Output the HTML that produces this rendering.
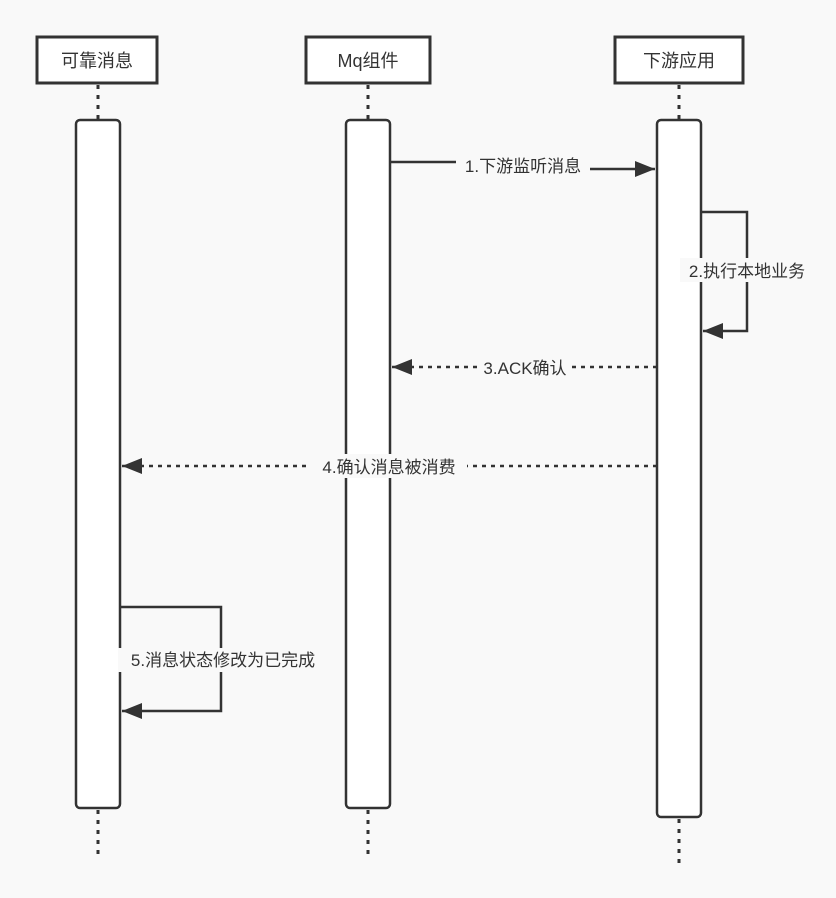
<!DOCTYPE html>
<html><head><meta charset="utf-8"><style>
body{margin:0;background:#f9f9f9;}
svg{display:block;font-family:"Liberation Sans","Noto Sans CJK SC",sans-serif;}
</style></head><body>
<svg width="836" height="898" viewBox="0 0 836 898">
<defs><marker id="a" markerWidth="10" markerHeight="10" refX="9" refY="5" orient="auto" markerUnits="userSpaceOnUse" viewBox="0 0 10 10"><path d="M0,0 L10,5 L0,10 z" fill="#333"/></marker>
<marker id="b" viewBox="0 0 20 16" refX="20" refY="8" markerWidth="20" markerHeight="16" orient="auto" markerUnits="userSpaceOnUse"><path d="M0,0 L20,8 L0,16 z" fill="#333"/></marker></defs>
<g stroke="#333" stroke-width="3" fill="#fff">
<rect x="37" y="37" width="120" height="46"/>
<rect x="306" y="37" width="124" height="46"/>
<rect x="615" y="37" width="128" height="46"/>
</g>
<g font-size="18" fill="#333" text-anchor="middle">
<text x="97" y="67">可靠消息</text>
<text x="368" y="67">Mq组件</text>
<text x="679" y="67">下游应用</text>
</g>
<g stroke="#333" stroke-width="3" stroke-dasharray="4 6">
<line x1="98" y1="85" x2="98" y2="120"/><line x1="98" y1="810" x2="98" y2="856"/>
<line x1="368" y1="85" x2="368" y2="120"/><line x1="368" y1="810" x2="368" y2="856"/>
<line x1="679" y1="85" x2="679" y2="120"/><line x1="679" y1="819" x2="679" y2="864"/>
</g>
<g stroke="#333" stroke-width="2.5" fill="#fff">
<rect x="76" y="120" width="44" height="688" rx="4"/>
<rect x="346" y="120" width="44" height="688" rx="4"/>
<rect x="657" y="120" width="44" height="697" rx="4"/>
</g>
<g stroke="#333" stroke-width="2.5" fill="none">
<path d="M390,162 H520 V169 H655" marker-end="url(#b)"/>
<path d="M701,212 H747 V331 H703" marker-end="url(#b)"/>
<path d="M657,367 H392" stroke-dasharray="4 5" marker-end="url(#b)"/>
<path d="M657,466 H122" stroke-dasharray="4 5" marker-end="url(#b)"/>
<path d="M120,607 H221 V711 H122" marker-end="url(#b)"/>
</g>
<g font-size="17" fill="#333" text-anchor="middle">
<rect x="456" y="152" width="134" height="24" fill="#f9f9f9"/>
<text x="523" y="172">1.下游监听消息</text>
<rect x="680" y="258" width="134" height="24" fill="#f9f9f9"/>
<text x="747" y="277">2.执行本地业务</text>
<rect x="478" y="355" width="94" height="24" fill="#f9f9f9"/>
<text x="525" y="374">3.ACK确认</text>
<rect x="311" y="454" width="156" height="24" fill="#f9f9f9"/>
<text x="389" y="473">4.确认消息被消费</text>
<rect x="118" y="648" width="210" height="24" fill="#f9f9f9"/>
<text x="223" y="666">5.消息状态修改为已完成</text>
</g>
</svg>
</body></html>
